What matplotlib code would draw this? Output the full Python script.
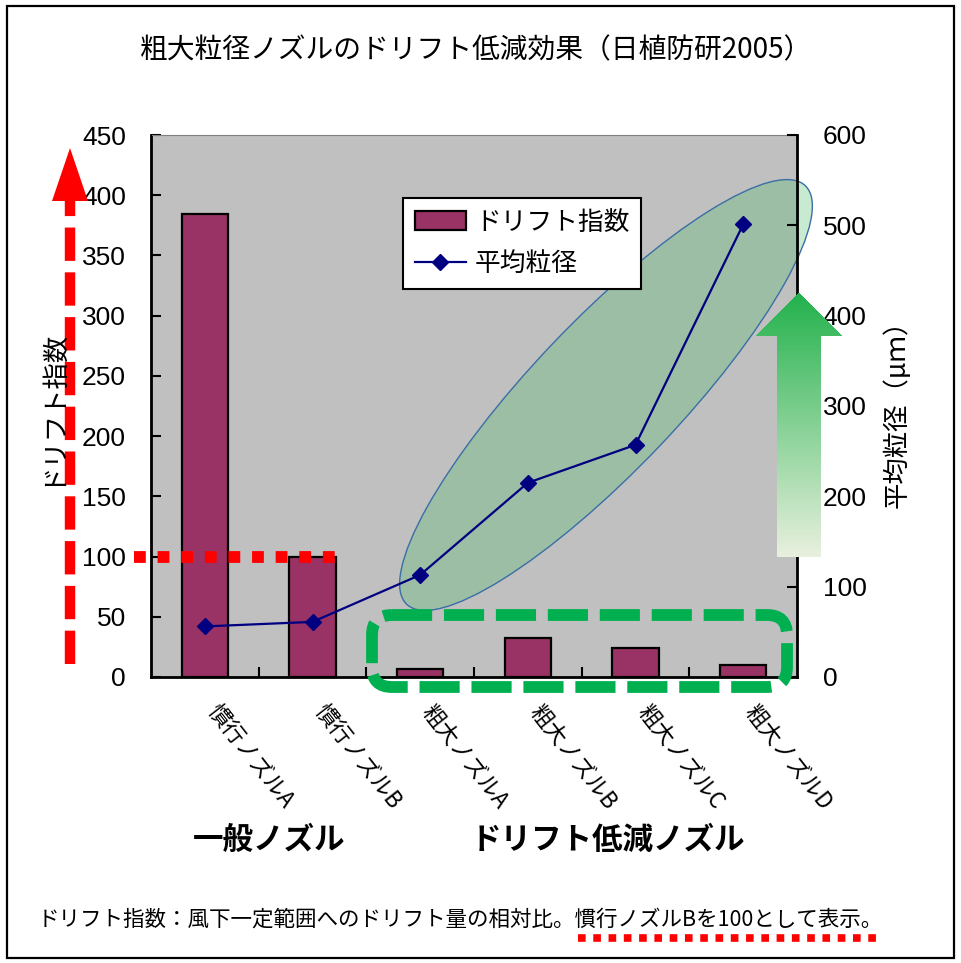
import numpy as np
import matplotlib
matplotlib.use("Agg")
import matplotlib.pyplot as plt
import matplotlib.transforms as mtransforms
from matplotlib.patches import Ellipse, Polygon, Rectangle, FancyBboxPatch, Patch
from matplotlib.lines import Line2D

plt.rcParams['font.family'] = ['Noto Sans CJK JP', 'DejaVu Sans']

# ドリフト指数（慣行ノズルB = 100）と平均粒径（μm）
nozzles = ['慣行ノズルA', '慣行ノズルB', '粗大ノズルA', '粗大ノズルB', '粗大ノズルC', '粗大ノズルD']
drift_index = [384, 100, 7, 32, 24, 10]
mean_size = [56, 61, 113, 215, 257, 501]
left_ticks = [0, 50, 100, 150, 200, 250, 300, 350, 400, 450]
right_ticks = [0, 100, 200, 300, 400, 500, 600]

W, H = 961, 963
fig = plt.figure(figsize=(W / 100, H / 100), dpi=100)
# pixel coordinates, origin at top-left
pix = mtransforms.Affine2D().scale(1 / W, -1 / H).translate(0, 1) + fig.transFigure

ax = fig.add_axes([151 / W, 1 - 677 / H, 646 / W, 542 / H])
ax.set_facecolor('#C0C0C0')
x = np.arange(len(nozzles))
ax.bar(x, drift_index, width=0.43, color='#993366', edgecolor='black', linewidth=1.6, zorder=2)
ax.set_xlim(-0.5, len(nozzles) - 0.5)
ax.set_ylim(0, 450)
ax.set_yticks(left_ticks)
ax.set_yticklabels([str(v) for v in left_ticks], fontfamily='Liberation Sans', fontsize=19)
ax.tick_params(axis='y', direction='in', length=7, width=1.5, pad=18)
ax.set_xticks(np.arange(len(nozzles) - 1) + 0.5, minor=True)
ax.set_xticks(x)
ax.set_xticklabels(nozzles, rotation=-52, ha='left', va='center',
                   rotation_mode='anchor', fontsize=16)
ax.tick_params(axis='x', which='major', length=0, pad=22)
ax.tick_params(axis='x', which='minor', direction='in', length=7, width=1.5)
shift = mtransforms.ScaledTranslation(6 / 100, 0, fig.dpi_scale_trans)
for lab in ax.get_xticklabels():
    lab.set_transform(lab.get_transform() + shift)
for s in ['left', 'bottom']:
    ax.spines[s].set_linewidth(2)
ax.spines['top'].set_color('#808080')

ax2 = ax.twinx()
ax2.plot(x, mean_size, color='#000080', linewidth=1.6, marker='D', markersize=8, zorder=4)
ax2.set_ylim(0, 600)
ax2.set_yticks(right_ticks)
ax2.set_yticklabels([str(v) for v in right_ticks], fontfamily='Liberation Sans', fontsize=19)
ax2.tick_params(axis='y', direction='in', length=7, width=1.5, pad=18.5)
ax2.spines['right'].set_linewidth(2)
ax2.spines['right'].set_zorder(2)
ax2.spines['top'].set_visible(False)

# 粗大ノズルを囲む楕円
ell = Ellipse((606, 395), 578, 148, angle=-46.4, transform=pix,
              facecolor=(70 / 255, 187 / 255, 103 / 255, 0.3),
              edgecolor='#3A6EA5', linewidth=1.0, zorder=1.5, clip_on=False)
ax2.add_patch(ell)

# 平均粒径の上向き矢印（グラデーション）
top_rgb = np.array([34, 177, 76]) / 255
bot_rgb = np.array([233, 240, 222]) / 255
tip_y, base_y, end_y, cx = 293, 336, 557, 799
for y0 in np.arange(tip_y, end_y, 1.0):
    if y0 < base_y:
        hw = 44 * (y0 + 0.5 - tip_y) / (base_y - tip_y)
    else:
        hw = 22
    t = (y0 - tip_y) / (end_y - tip_y)
    c = top_rgb * (1 - t) + bot_rgb * t
    ax2.add_patch(Rectangle((cx - hw, y0), 2 * hw, 1.05, transform=pix,
                            facecolor=c, edgecolor='none', zorder=2.2, clip_on=False))

handles = [Patch(facecolor='#993366', edgecolor='black', linewidth=1.6),
           Line2D([], [], color='#000080', linewidth=1.6, marker='D', markersize=8)]
leg = ax2.legend(handles, ['ドリフト指数', '平均粒径'], loc='upper left',
                 bbox_to_anchor=(403, 198), bbox_transform=pix, borderaxespad=0,
                 fontsize=18.5, frameon=True, fancybox=False, framealpha=1,
                 edgecolor='black', handlelength=2.0, handleheight=0.8,
                 labelspacing=0.6, borderpad=0.45, handletextpad=0.35)
leg.get_frame().set_linewidth(1.5)
leg.set_zorder(5)

# タイトル・軸ラベル・注記
fig.text(476, 50, '粗大粒径ノズルのドリフト低減効果（日植防研2005）', transform=pix,
         ha='center', va='center', fontsize=20)
fig.text(50, 407, 'ドリフト指数', transform=pix, rotation=90,
         ha='center', va='center', fontsize=19)
fig.text(897, 407, '平均粒径（μｍ）', transform=pix, rotation=90,
         ha='center', va='center', fontsize=19)
fig.text(269, 840, '一般ノズル', transform=pix, ha='center', va='center',
         fontsize=22, fontweight='bold')
fig.text(608, 840, 'ドリフト低減ノズル', transform=pix, ha='center', va='center',
         fontsize=22, fontweight='bold')

note_head = 'ドリフト指数：風下一定範囲へのドリフト量の相対比。'
note_tail = '慣行ノズルBを100として表示。'
note = fig.text(38, 920, note_head + note_tail, transform=pix,
                ha='left', va='center', fontsize=15.5)
# 注記後半の下線位置を文字幅から求める
renderer = fig.canvas.get_renderer()
probe = fig.text(38, 920, note_head, transform=pix, ha='left', va='center', fontsize=15.5)
x_start = probe.get_window_extent(renderer).x1
x_end = note.get_window_extent(renderer).x1
probe.remove()

# 赤の破線矢印と基準線
fig.add_artist(Line2D([70, 70], [664, 200], transform=pix, color='red', linewidth=7.5,
                      dashes=(3.2, 1.1), solid_capstyle='butt', dash_capstyle='butt'))
fig.add_artist(Polygon([(52, 201), (88, 201), (70, 148)], closed=True, transform=pix,
                       facecolor='red', edgecolor='none'))
fig.add_artist(Line2D([134, 337], [557, 557], transform=pix, color='red', linewidth=8.5,
                      dashes=(1, 1), dash_capstyle='butt'))
fig.add_artist(Line2D([x_start + 2, x_end], [H - 938, H - 938], color='red', linewidth=5.5,
                      dashes=(1, 1), dash_capstyle='butt', transform=None))

# 緑の破線枠
fig.add_artist(FancyBboxPatch((372, 615), 415, 72, boxstyle='round,pad=0,rounding_size=20',
                              transform=pix, facecolor='none', edgecolor='#00B050',
                              linewidth=8.5, linestyle=(0, (3.4, 1.0))))

# 外枠
fig.add_artist(Rectangle((7, 6), 947, 952, transform=pix, facecolor='none',
                         edgecolor='black', linewidth=1.6))

fig.savefig('out.png', dpi=100)
